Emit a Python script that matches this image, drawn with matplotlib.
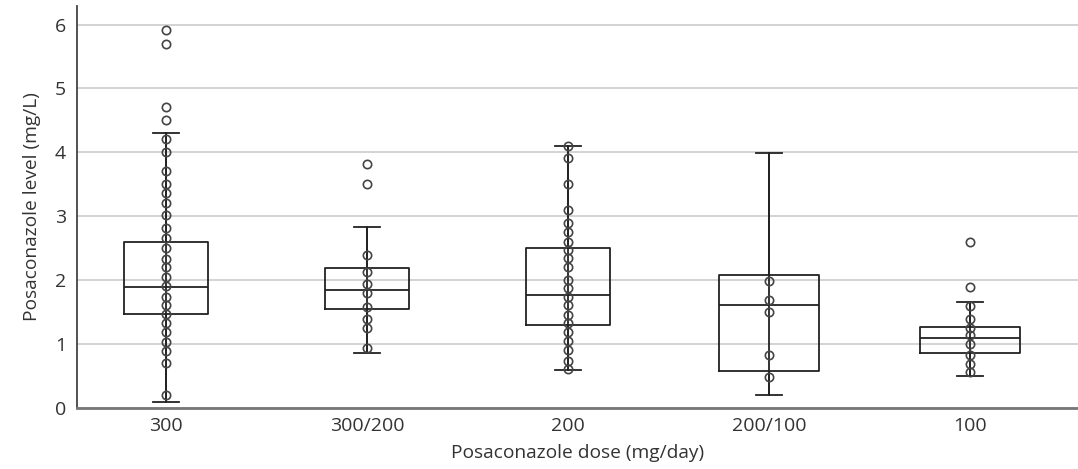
import numpy as np
import matplotlib
matplotlib.use('Agg')
import matplotlib.pyplot as plt

# dose groups
doses = ['300', '300/200', '200', '200/100', '100']

# box statistics (mg/L)
q1 = [1.46, 1.54, 1.30, 0.58, 0.85]
med = [1.89, 1.84, 1.77, 1.61, 1.09]
q3 = [2.60, 2.19, 2.50, 2.07, 1.26]
whislo = [0.09, 0.86, 0.59, 0.20, 0.49]
whishi = [4.30, 2.83, 4.10, 3.99, 1.65]

# individual levels per group
pts_300 = [5.91, 5.70, 4.71, 4.51, 4.20, 4.00, 3.70, 3.51, 3.36, 3.20, 3.01,
           2.81, 2.66, 2.50, 2.32, 2.20, 2.05, 1.90, 1.74, 1.60, 1.46, 1.32,
           1.19, 1.03, 0.89, 0.70, 0.19]
pts_300_200 = [3.81, 3.50, 2.39, 2.13, 1.94, 1.79, 1.57, 1.39, 1.25, 0.93]
pts_200 = [4.10, 3.91, 3.50, 3.10, 2.89, 2.75, 2.60, 2.47, 2.34, 2.21, 2.00,
           1.87, 1.74, 1.60, 1.45, 1.33, 1.19, 1.05, 0.90, 0.73, 0.60]
pts_200_100 = [1.99, 1.69, 1.49, 0.82, 0.48]
pts_100 = [2.59, 1.89, 1.59, 1.38, 1.25, 1.13, 0.99, 0.82, 0.69, 0.55]
points = [pts_300, pts_300_200, pts_200, pts_200_100, pts_100]

box_widths = [0.42, 0.42, 0.42, 0.50, 0.50]

TEXT = '#333333'
plt.rcParams['font.family'] = ['Open Sans', 'DejaVu Sans']

fig = plt.figure(figsize=(10.78, 4.69), dpi=100)
ax = fig.add_axes([0.0714, 0.131, 0.9286, 0.856])

pos = np.arange(len(doses))
stats = []
for i in range(len(doses)):
    stats.append({'q1': q1[i], 'med': med[i], 'q3': q3[i],
                  'whislo': whislo[i], 'whishi': whishi[i], 'fliers': []})

line_kw = dict(color='#222222', linewidth=1.3)
ax.bxp(stats, positions=pos, widths=box_widths, capwidths=0.13,
       showfliers=False, boxprops=line_kw, medianprops=line_kw,
       whiskerprops=line_kw, capprops=line_kw, manage_ticks=False,
       zorder=3)
# whisker line runs through the box
ax.vlines(pos, whislo, whishi, color='#222222', linewidth=1.3, zorder=3)

for i, vals in enumerate(points):
    ax.plot(np.full(len(vals), pos[i]), vals, linestyle='none', marker='o',
            markersize=6, markerfacecolor='none', markeredgecolor='#444444',
            markeredgewidth=1.2, zorder=4)

ax.set_xlim(-0.443, 4.537)
ax.set_ylim(0, 6.29)
ax.set_yticks(range(7))
ax.set_xticks(pos)
ax.set_xticklabels(doses)

ax.yaxis.grid(True, color='#d0d0d0', linewidth=1.3)
ax.set_axisbelow(True)
for s in ['top', 'right']:
    ax.spines[s].set_visible(False)
ax.spines['left'].set_color('#444444')
ax.spines['left'].set_linewidth(1.3)
ax.spines['bottom'].set_color('#777777')
ax.spines['bottom'].set_linewidth(2)

ax.tick_params(axis='both', length=0, labelsize=14, colors=TEXT)
ax.tick_params(axis='y', pad=8)
ax.tick_params(axis='x', pad=7)

ax.set_xlabel('Posaconazole dose (mg/day)', fontsize=13.8, color=TEXT, labelpad=6)
ax.set_ylabel('Posaconazole level (mg/L)', fontsize=13.8, color=TEXT, labelpad=10)

fig.savefig('out.png', dpi=100)
